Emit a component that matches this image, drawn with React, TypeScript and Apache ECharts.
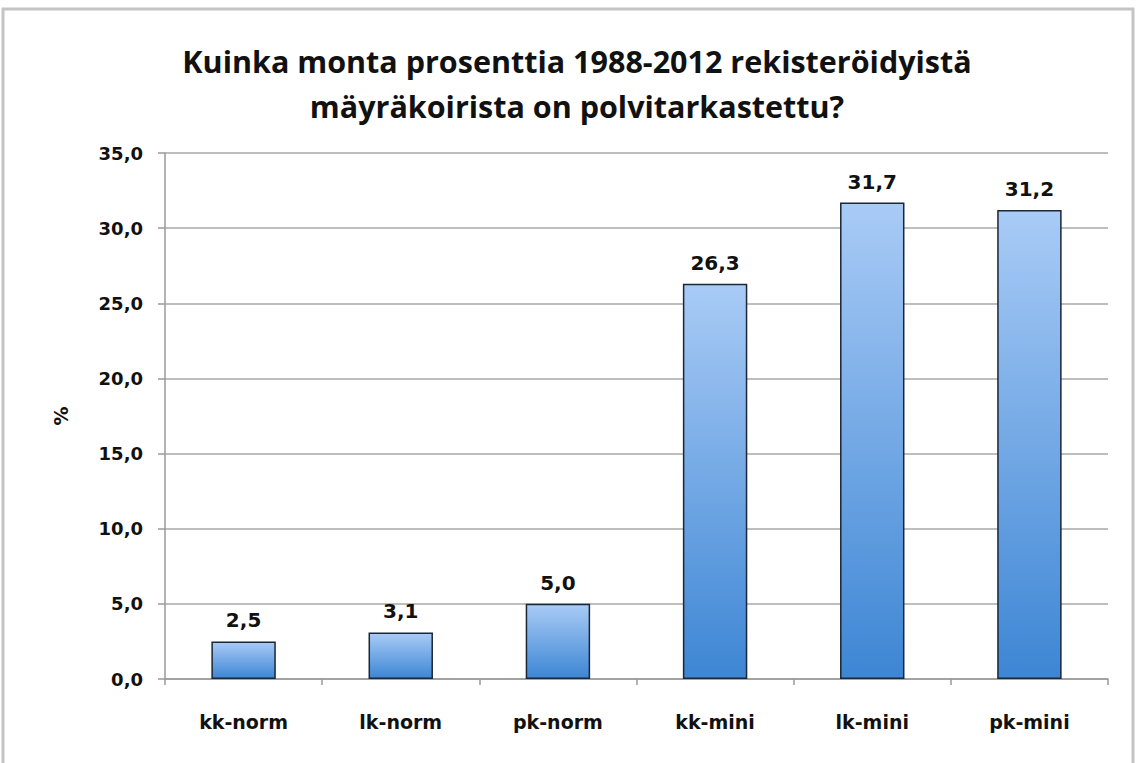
import React, { useEffect, useRef } from "react";
import * as echarts from "echarts";

const categories = ["kk-norm", "lk-norm", "pk-norm", "kk-mini", "lk-mini", "pk-mini"];
const values = [2.5, 3.1, 5.0, 26.3, 31.7, 31.2];
const titleLines = ["Kuinka monta prosenttia 1988-2012 rekisteröidyistä", "mäyräkoirista on polvitarkastettu?"];
const yName = "%";

const fmt = (v: number) => v.toFixed(1).replace(".", ",");

export default function App() {
  const ref = useRef<HTMLDivElement>(null);
  useEffect(() => {
    const chart = echarts.init(ref.current!, null, { renderer: "svg" });
    chart.setOption({
      animation: false,
      backgroundColor: "#ffffff",
      title: {
        text: titleLines.join("\n"),
        left: 572,
        textAlign: "center",
        top: 33,
        textStyle: {
          fontFamily: "'Open Sans', sans-serif",
          fontWeight: "bold",
          fontSize: 30.5,
          lineHeight: 45,
          color: "#111111",
        },
      },
      graphic: [
        {
          type: "rect",
          shape: { x: 3, y: 9, width: 1130, height: 770 },
          style: { fill: "none", stroke: "#c4c4c4", lineWidth: 3 },
          silent: true,
        },
      ],
      grid: { left: 165, right: 28, top: 153, bottom: 84 },
      xAxis: {
        type: "category",
        data: categories,
        axisLine: { lineStyle: { color: "#9a9a9a", width: 1.5 } },
        axisTick: { show: true, length: 6, lineStyle: { color: "#9a9a9a", width: 1.5 } },
        axisLabel: {
          margin: 33,
          fontFamily: "'DejaVu Sans', sans-serif",
          fontWeight: "bold",
          fontSize: 19,
          color: "#111111",
        },
      },
      yAxis: {
        type: "value",
        min: 0,
        max: 35,
        interval: 5,
        name: yName,
        nameLocation: "middle",
        nameGap: 95,
        nameRotate: 90,
        nameTextStyle: {
          fontFamily: "'DejaVu Sans', sans-serif",
          fontWeight: "bold",
          fontSize: 19,
          color: "#111111",
        },
        axisLine: { show: true, lineStyle: { color: "#9a9a9a", width: 1.5 } },
        axisTick: { show: true, length: 7, lineStyle: { color: "#9a9a9a", width: 1.5 } },
        splitLine: { lineStyle: { color: "#a8a8a8", width: 1.5 } },
        axisLabel: {
          margin: 22,
          formatter: (v: number) => fmt(v),
          fontFamily: "'DejaVu Sans', sans-serif",
          fontWeight: "bold",
          fontSize: 18,
          color: "#111111",
        },
      },
      series: [
        {
          type: "bar",
          data: values,
          barWidth: "41%",
          itemStyle: {
            color: new echarts.graphic.LinearGradient(0, 0, 0, 1, [
              { offset: 0, color: "#a9cbf6" },
              { offset: 1, color: "#3d86d4" },
            ]),
            borderColor: "#1b2636",
            borderWidth: 1.5,
          },
          label: {
            show: true,
            position: "top",
            distance: 11,
            formatter: (p: any) => fmt(p.value),
            fontFamily: "'DejaVu Sans', sans-serif",
            fontWeight: "bold",
            fontSize: 20,
            color: "#111111",
          },
        },
      ],
    });
    return () => chart.dispose();
  }, []);
  return (
    <div
      ref={ref}
      style={{ position: "absolute", left: 0, top: 0, width: 1136, height: 763 }}
    />
  );
}
